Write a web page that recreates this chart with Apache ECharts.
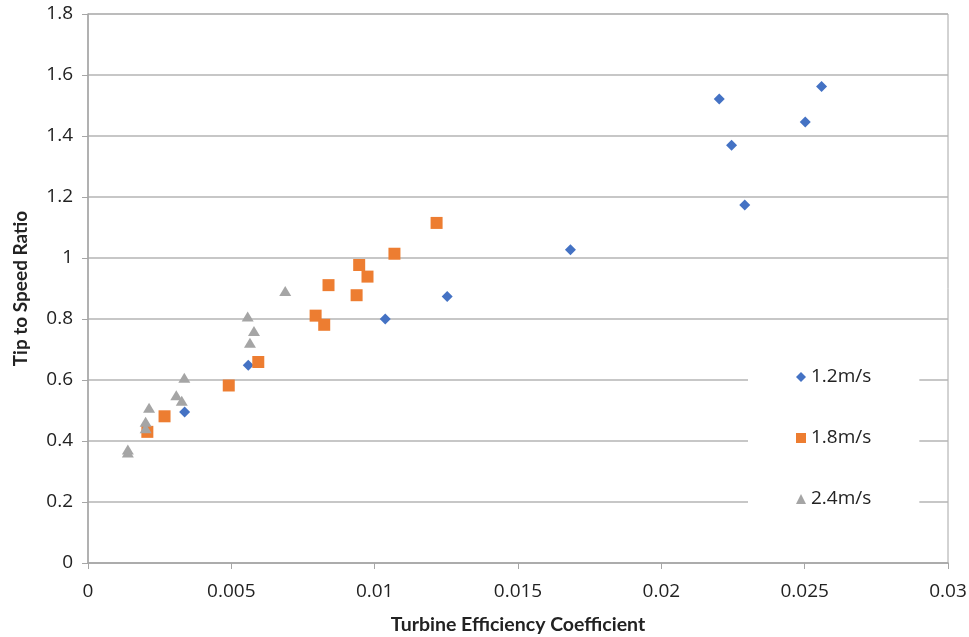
<!DOCTYPE html>
<html>
<head>
<meta charset="utf-8">
<script src="https://cdn.jsdelivr.net/npm/echarts@6/dist/echarts.min.js"></script>
<style>html,body{margin:0;padding:0;background:#fff}#c{width:969px;height:637px}</style>
</head>
<body>
<div id="c"></div>
<script>
var seriesNames = ['1.2m/s', '1.8m/s', '2.4m/s'];
var s12x = [0.00337, 0.00559, 0.01037, 0.01253, 0.01683, 0.02202, 0.02245, 0.02291, 0.02502, 0.02559];
var s12y = [0.495, 0.648, 0.800, 0.874, 1.027, 1.521, 1.370, 1.174, 1.446, 1.562];
var s18x = [0.01216, 0.01069, 0.00946, 0.00975, 0.00839, 0.00937, 0.00794, 0.00824, 0.00594, 0.00491, 0.00267, 0.00207];
var s18y = [1.115, 1.014, 0.977, 0.939, 0.911, 0.878, 0.811, 0.781, 0.659, 0.582, 0.481, 0.430];
var s24x = [0.00688, 0.00557, 0.00579, 0.00565, 0.00336, 0.00308, 0.00327, 0.00213, 0.00201, 0.00201, 0.00139, 0.00139];
var s24y = [0.892, 0.808, 0.761, 0.722, 0.607, 0.550, 0.532, 0.509, 0.463, 0.442, 0.372, 0.362];
var xTitle = 'Turbine Efficiency Coefficient';
var yTitle = 'Tip to Speed Ratio';

function pairs(xs, ys) { return xs.map(function (x, i) { return [x, ys[i]]; }); }
var fmt = function (v) { return String(parseFloat(Number(v).toFixed(4))); };
var axisGray = '#A6A6A6';
var gridGray = '#B4B4B4';

var chart = echarts.init(document.getElementById('c'));
chart.setOption({
  animation: false,
  backgroundColor: '#fff',
  grid: { left: 88, right: 21, top: 14, bottom: 74, containLabel: false, outerBoundsMode: 'none', show: true, borderColor: axisGray, borderWidth: 1, backgroundColor: 'transparent' },
  xAxis: {
    type: 'value', min: 0, max: 0.03, interval: 0.005,
    name: xTitle, nameLocation: 'middle', nameGap: 52,
    nameTextStyle: { fontFamily: 'Lato', fontWeight: 'bold', fontSize: 19.5, color: '#222' },
    axisLine: { show: true, lineStyle: { color: axisGray, width: 1.5 } },
    axisTick: { show: true, length: 6, lineStyle: { color: axisGray } },
    axisLabel: { formatter: fmt, fontFamily: 'Open Sans', fontSize: 19, color: '#222', margin: 19 },
    splitLine: { show: false }
  },
  yAxis: {
    type: 'value', min: 0, max: 1.8, interval: 0.2,
    name: yTitle, nameLocation: 'middle', nameGap: 58, nameRotate: 90,
    nameTextStyle: { fontFamily: 'Lato', fontWeight: 'bold', fontSize: 19, color: '#222' },
    axisLine: { show: true, lineStyle: { color: axisGray, width: 1.5 } },
    axisTick: { show: true, length: 6, inside: false, lineStyle: { color: axisGray } },
    axisLabel: { formatter: fmt, fontFamily: 'Open Sans', fontSize: 19, color: '#222', margin: 15 },
    splitLine: { show: true, lineStyle: { color: gridGray, width: 1.5 } }
  },
  legend: {
    orient: 'vertical', left: 748, top: 344,
    padding: [20, 48, 20, 48],
    backgroundColor: '#fff',
    itemWidth: 10, itemHeight: 10, itemGap: 35,
    selectedMode: false,
    textStyle: { fontFamily: 'Open Sans', fontSize: 19, color: '#222', lineHeight: 20, padding: [6, 0, 0, 0] },
    data: [
      { name: seriesNames[0], icon: 'diamond' },
      { name: seriesNames[1], icon: 'rect' },
      { name: seriesNames[2], icon: 'triangle' }
    ]
  },
  series: [
    { name: seriesNames[0], type: 'scatter', symbol: 'diamond', symbolSize: [11, 11], itemStyle: { color: '#4472C4', opacity: 1 }, data: pairs(s12x, s12y), z: 3 },
    { name: seriesNames[1], type: 'scatter', symbol: 'rect', symbolSize: [12, 12], itemStyle: { color: '#ED7D31', opacity: 1 }, data: pairs(s18x, s18y), z: 4 },
    { name: seriesNames[2], type: 'scatter', symbol: 'triangle', symbolSize: [12, 10], itemStyle: { color: '#A5A5A5', opacity: 1 }, data: pairs(s24x, s24y), z: 5 }
  ]
});
</script>
</body>
</html>
